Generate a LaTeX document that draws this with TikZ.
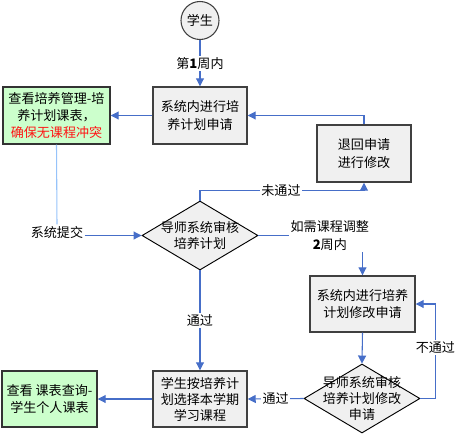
\documentclass[tikz,border=0pt]{standalone}
\usepackage{fontspec}
\setmainfont{Noto Sans CJK SC}
\usetikzlibrary{arrows.meta,shapes.geometric}
\definecolor{lineblue}{RGB}{70,110,200}
\definecolor{lightline}{RGB}{150,195,250}
\definecolor{boxfill}{RGB}{240,240,240}
\definecolor{greenfill}{RGB}{204,255,204}
\definecolor{redtext}{RGB}{255,20,20}
\begin{document}
\begin{tikzpicture}[x=0.75pt,y=-0.75pt,
  font=\fontsize{9.8}{13}\selectfont,
  procbox/.style={draw=black!75,line width=1.1pt,fill=boxfill,align=center,inner sep=0pt},
  greenbox/.style={draw=black!80,line width=1.1pt,fill=greenfill,align=center,inner sep=0pt},
  dia/.style={diamond,draw=black,line width=0.7pt,fill=boxfill,inner sep=0pt,minimum width=87pt,minimum height=51.75pt},
  arr/.style={draw=lineblue,line width=0.8pt,-{Triangle[length=6pt,width=6pt]}},
  lbl/.style={fill=white,inner sep=1pt,align=center}]
\useasboundingbox (0,0) rectangle (462,437);

\node[circle,draw=black!75,line width=0.8pt,fill=boxfill,minimum size=28.5pt,inner sep=0pt] (stu) at (200,20.5) {学生};
\node[procbox,minimum width=70.5pt,minimum height=42.75pt] (b1) at (200,115.5) {系统内进行培\\养计划申请};
\node[greenbox,minimum width=80.25pt,minimum height=42.75pt] (g1) at (56.5,115.5) {查看培养管理-培\\养计划课表，\\\textcolor{redtext}{确保无课程冲突}};
\node[procbox,minimum width=70.5pt,minimum height=42.75pt] (ret) at (364,153.5) {退回申请\\进行修改};
\node[dia,label={[align=center,font=\fontsize{9.8}{12.5}\selectfont]center:导师系统审核\\培养计划}] (d1) at (200,235.5) {};
\node[procbox,minimum width=78.75pt,minimum height=42pt] (b3) at (362.5,304) {系统内进行培养\\计划修改申请};
\node[dia,label={[align=center,font=\fontsize{9.8}{11.8}\selectfont]center:导师系统审核\\培养计划修改\\申请}] (d2) at (362,398.5) {};
\node[procbox,minimum width=70.5pt,minimum height=42pt,font=\fontsize{9.8}{12}\selectfont] (b4) at (200,399) {学生按培养计\\划选择本学期\\学习课程};
\node[greenbox,minimum width=71.25pt,minimum height=42pt] (g2) at (49.5,399) {查看 课表查询-\\学生个人课表};
\node[lbl] (tj) at (57,232) {系统提交};

\draw[arr] (stu.south) -- node[lbl]{第\textbf{1}周内} (b1.north);
\draw[arr] (b1.west) -- (g1.east);
\draw[draw=lightline,line width=0.8pt] (g1.south) -- (tj.north);
\draw[arr] (tj.east |- d1.west) -- (d1.west);
\draw[arr] (ret.north) |- (b1.east);
\draw[arr] (d1.north) -- ++(0,-10) -| node[lbl,pos=0.247]{未通过} (ret.south);
\draw[arr] (d1.east) -| node[lbl,pos=0.343,font=\fontsize{9.8}{13.5}\selectfont]{如需课程调整\\\textbf{2}周内} (b3.north);
\draw[arr] (d1.south) -- node[lbl]{通过} (b4.north);
\draw[arr] (b3.south) -- (d2.north);
\draw[arr] (d2.east) -- ++(15,0) |- node[lbl,pos=0.27]{不通过} (b3.east);
\draw[arr] (d2.west) -- node[lbl]{通过} (b4.east);
\draw[arr] (b4.west) -- (g2.east);
\end{tikzpicture}
\end{document}
